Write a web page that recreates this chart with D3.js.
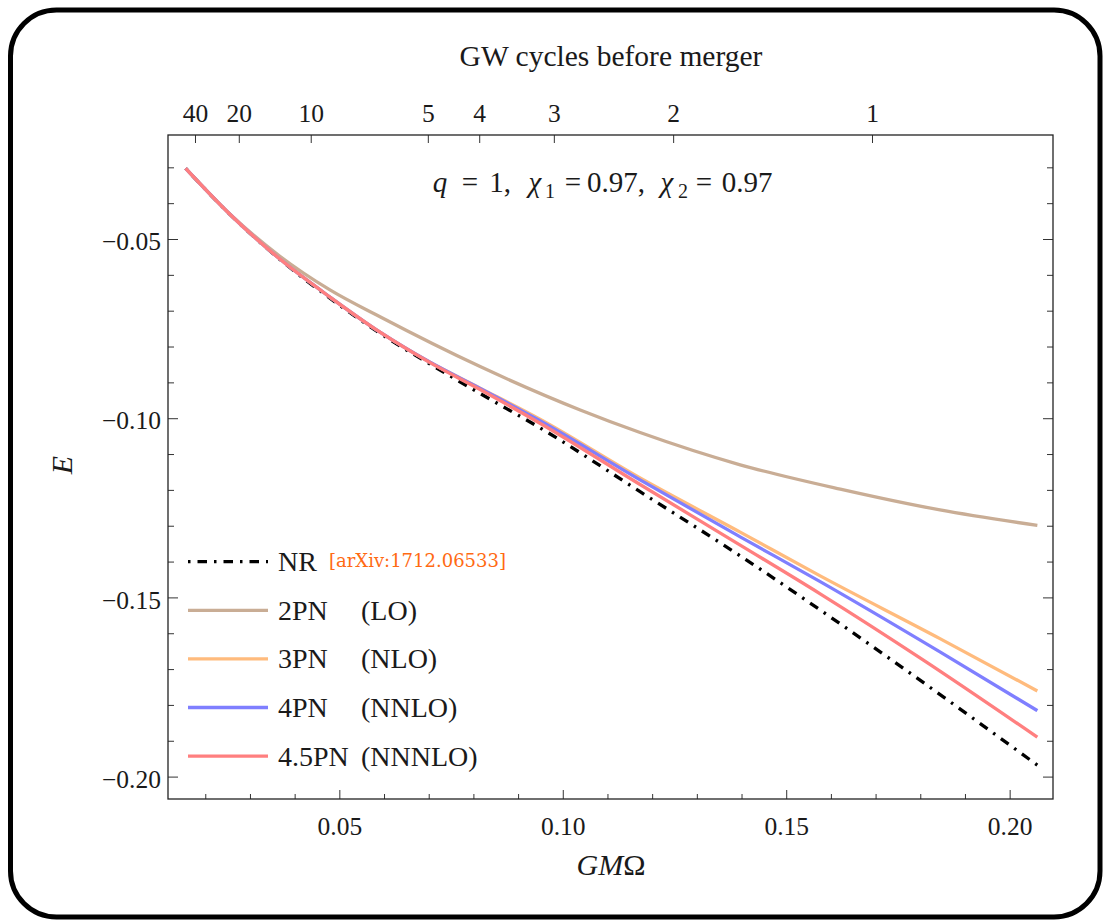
<!DOCTYPE html>
<html>
<head>
<meta charset="utf-8">
<script src="https://cdn.jsdelivr.net/npm/d3@7"></script>
<style>
  body { margin: 0; background: #fff; }
</style>
</head>
<body>
<svg id="chart"></svg>
<script>
// ---- data: [GMΩ, E] ----
const nrSeries = [
  [0.0156, -0.0303], [0.0255, -0.0431], [0.0367, -0.0557], [0.0479, -0.0665],
  [0.0591, -0.0763], [0.0703, -0.0849], [0.0815, -0.0931], [0.0964, -0.1038],
  [0.1173, -0.1205], [0.1397, -0.1384], [0.1576, -0.1535], [0.1725, -0.1665],
  [0.2062, -0.1968],
];
const pn2Series = [
  [0.0156, -0.0303], [0.0255, -0.0430], [0.0367, -0.0548], [0.0479, -0.0642],
  [0.0591, -0.0717], [0.0815, -0.0856], [0.1039, -0.0977], [0.1173, -0.1040],
  [0.1397, -0.1130], [0.1621, -0.1198], [0.1844, -0.1256], [0.2062, -0.1299],
];
const pn3Series = [
  [0.0156, -0.0303], [0.0255, -0.0431], [0.0367, -0.0556], [0.0479, -0.0662],
  [0.0591, -0.0760], [0.0703, -0.0844], [0.0815, -0.0916], [0.0949, -0.1003],
  [0.1173, -0.1167], [0.1397, -0.1318], [0.1576, -0.1440], [0.1844, -0.1615],
  [0.2062, -0.1761],
];
const pn4Series = [
  [0.0156, -0.0303], [0.0255, -0.0431], [0.0367, -0.0556], [0.0479, -0.0662],
  [0.0591, -0.0760], [0.0703, -0.0844], [0.0815, -0.0917], [0.0949, -0.1007],
  [0.1173, -0.1172], [0.1397, -0.1331], [0.1576, -0.1456], [0.1844, -0.1652],
  [0.2062, -0.1816],
];
const pn45Series = [
  [0.0156, -0.0303], [0.0255, -0.0431], [0.0367, -0.0556], [0.0479, -0.0662],
  [0.0591, -0.0760], [0.0703, -0.0845], [0.0815, -0.0920], [0.0949, -0.1014],
  [0.1173, -0.1185], [0.1397, -0.1354], [0.1576, -0.1490], [0.1807, -0.1675],
  [0.2062, -0.1890],
];

const seriesNames = ['NR', '2PN', '3PN', '4PN', '4.5PN'];
const seriesOrders = ['', '(LO)', '(NLO)', '(NNLO)', '(NNNLO)'];
const nrSource = '[arXiv:1712.06533]';

// GW cycles left before merger (top axis) and where they sit in GMΩ
const cycleLabels = [40, 20, 10, 5, 4, 3, 2, 1];
const cycleOmega = [0.0177, 0.0275, 0.0436, 0.0698, 0.0813, 0.0980, 0.1247, 0.1692];

const omegaMajorTicks = [0.05, 0.10, 0.15, 0.20];
const omegaMinorTicks = [0.02, 0.03, 0.04, 0.06, 0.07, 0.08, 0.09, 0.11, 0.12, 0.13,
  0.14, 0.16, 0.17, 0.18, 0.19];
const energyMajorTicks = [-0.05, -0.10, -0.15, -0.20];
const energyMinorTicks = [-0.03, -0.04, -0.06, -0.07, -0.08, -0.09, -0.11, -0.12,
  -0.13, -0.14, -0.16, -0.17, -0.18, -0.19];

// ---- layout / styles ----
const config = {
  width: 1105,
  height: 920,
  plot: { left: 168, top: 135, right: 1053, bottom: 799 },
  xDomain: [0.01166, 0.2097],
  yDomain: [-0.02098, -0.20625],
  colors: ['#000000', '#c9ad95', '#ffbb7d', '#7f7fff', '#ff7f7f'],
  tickColor: '#333',
  font: '"Liberation Serif"',
  labelSize: 25.5,
};

const svg = d3.select('#chart')
  .attr('width', config.width)
  .attr('height', config.height);

// every text gets the serif font explicitly
function useSerif(sel, size) {
  return sel
    .style('font-family', config.font)
    .style('font-size', `${size}px`)
    .style('fill', '#1a1a1a');
}

// rounded outer border
svg.append('rect')
  .attr('x', 10.5)
  .attr('y', 10)
  .attr('width', 1089.5)
  .attr('height', 907)
  .attr('rx', 46)
  .attr('fill', 'none')
  .attr('stroke', '#000')
  .attr('stroke-width', 5);

const p = config.plot;
const x = d3.scaleLinear().domain(config.xDomain).range([p.left, p.right]);
const y = d3.scaleLinear().domain(config.yDomain).range([p.top, p.bottom]);

const fmt = d3.format('.2f');

function styleAxis(g) {
  g.attr('font-family', null);
  g.select('.domain').remove();
  g.selectAll('line').attr('stroke', config.tickColor).attr('stroke-width', 1);
  useSerif(g.selectAll('text'), config.labelSize);
}

// bottom axis
svg.append('g')
  .attr('transform', `translate(0,${p.bottom})`)
  .call(d3.axisBottom(x).tickValues(omegaMinorTicks).tickSize(-5).tickFormat(''))
  .call(styleAxis);
svg.append('g')
  .attr('transform', `translate(0,${p.bottom})`)
  .call(d3.axisBottom(x).tickValues(omegaMajorTicks).tickSize(-9).tickPadding(18).tickFormat(fmt))
  .call(styleAxis);

// top axis: cycles before merger
const cycleByOmega = new Map(cycleOmega.map((d, i) => [d, cycleLabels[i]]));
svg.append('g')
  .attr('transform', `translate(0,${p.top})`)
  .call(d3.axisTop(x).tickValues(cycleOmega).tickSize(-8).tickPadding(13)
    .tickFormat((d) => cycleByOmega.get(d)))
  .call(styleAxis);

// left axis
svg.append('g')
  .attr('transform', `translate(${p.left},0)`)
  .call(d3.axisLeft(y).tickValues(energyMinorTicks).tickSize(-6).tickFormat(''))
  .call(styleAxis);
svg.append('g')
  .attr('transform', `translate(${p.left},0)`)
  .call(d3.axisLeft(y).tickValues(energyMajorTicks).tickSize(-10).tickPadding(7).tickFormat(fmt))
  .call(styleAxis)
  .call((g) => g.selectAll('text').attr('dy', '0.42em'));

// right axis (ticks only)
svg.append('g')
  .attr('transform', `translate(${p.right},0)`)
  .call(d3.axisRight(y).tickValues(energyMinorTicks).tickSize(-6).tickFormat(''))
  .call(styleAxis);
svg.append('g')
  .attr('transform', `translate(${p.right},0)`)
  .call(d3.axisRight(y).tickValues(energyMajorTicks).tickSize(-10).tickFormat(''))
  .call(styleAxis);

// frame
svg.append('rect')
  .attr('x', p.left)
  .attr('y', p.top)
  .attr('width', p.right - p.left)
  .attr('height', p.bottom - p.top)
  .attr('fill', 'none')
  .attr('stroke', '#222')
  .attr('stroke-width', 1.3);

// curves: NR first so the PN lines sit on top of it
const allSeries = [nrSeries, pn2Series, pn3Series, pn4Series, pn45Series];
const line = d3.line()
  .x((d) => x(d[0]))
  .y((d) => y(d[1]))
  .curve(d3.curveMonotoneX);

svg.append('g')
  .selectAll('path')
  .data(allSeries)
  .join('path')
  .attr('d', line)
  .attr('fill', 'none')
  .attr('stroke', (d, i) => config.colors[i])
  .attr('stroke-width', 3.3)
  .attr('stroke-dasharray', (d, i) => (i === 0 ? '2.5,7,9.5,7' : null));

// legend
const legend = svg.append('g').attr('transform', 'translate(188,561.7)');
const rows = legend.selectAll('g')
  .data(seriesNames)
  .join('g')
  .attr('transform', (d, i) => `translate(0,${i * 48.6})`);

rows.append('line')
  .attr('x1', 0)
  .attr('x2', 80)
  .attr('stroke', (d, i) => config.colors[i])
  .attr('stroke-width', 3.3)
  .attr('stroke-dasharray', (d, i) => (i === 0 ? '2.5,7,9.5,7' : null));

rows.append('text')
  .attr('x', 90)
  .attr('dy', '0.34em')
  .call(useSerif, 28)
  .text((d) => d);

rows.append('text')
  .attr('x', 173)
  .attr('dy', '0.34em')
  .call(useSerif, 28)
  .text((d, i) => seriesOrders[i]);

legend.append('text')
  .attr('x', 141)
  .attr('dy', '0.3em')
  .style('font-family', '"DejaVu Serif"')
  .style('font-size', '18px')
  .style('fill', '#ff6a13')
  .text(nrSource);

// titles
svg.append('text')
  .attr('x', 611)
  .attr('y', 66)
  .attr('text-anchor', 'middle')
  .call(useSerif, 29.5)
  .text('GW cycles before merger');

const xTitle = svg.append('text')
  .attr('x', 611)
  .attr('y', 875)
  .attr('text-anchor', 'middle')
  .call(useSerif, 30);
xTitle.append('tspan').style('font-style', 'italic').text('GM');
xTitle.append('tspan').text('Ω');

svg.append('text')
  .attr('transform', 'translate(72,465) rotate(-90)')
  .attr('text-anchor', 'middle')
  .call(useSerif, 30)
  .style('font-style', 'italic')
  .text('E');

// parameter annotation, each piece centred where it sits in the figure
const notePieces = [
  { t: 'q', cx: 440, italic: true },
  { t: '=', cx: 470 },
  { t: '1,', cx: 500 },
  { t: 'χ', cx: 535, italic: true },
  { t: '1', cx: 550, sub: true },
  { t: '=', cx: 573 },
  { t: '0.97,', cx: 616 },
  { t: 'χ', cx: 667, italic: true },
  { t: '2', cx: 683, sub: true },
  { t: '=', cx: 704 },
  { t: '0.97', cx: 747 },
];
const note = svg.append('g');
note.selectAll('text')
  .data(notePieces)
  .join('text')
  .attr('x', (d) => d.cx)
  .attr('y', (d) => (d.sub ? 198 : 192))
  .attr('text-anchor', 'middle')
  .call(useSerif, 29)
  .style('font-style', (d) => (d.italic ? 'italic' : 'normal'))
  .style('font-size', (d) => (d.sub ? '20px' : '29px'))
  .text((d) => d.t);
</script>
</body>
</html>
